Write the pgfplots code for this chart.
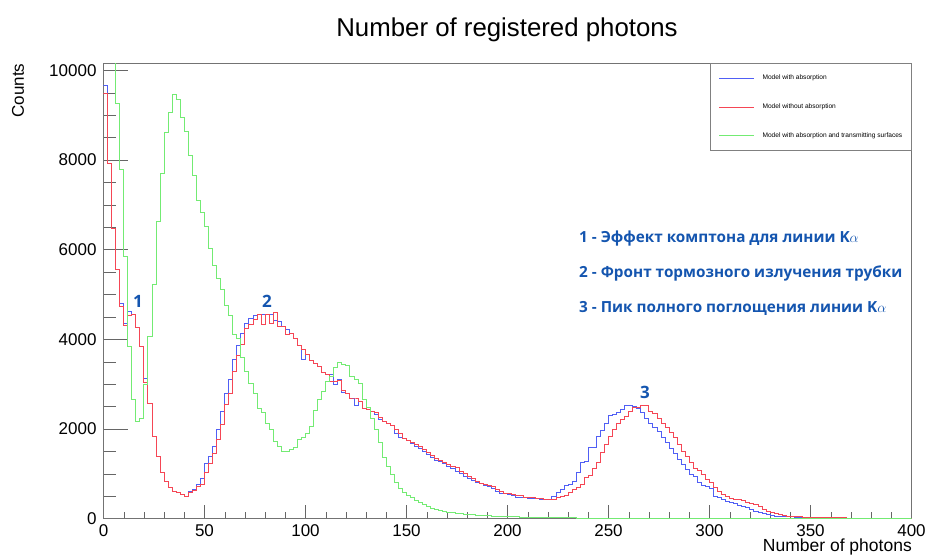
\documentclass[border=0pt]{standalone}
\usepackage{fontspec}
\setmainfont{Liberation Sans}
\newfontfamily\annfont{Open Sans}
\usepackage{pgfplots}
\usepackage{pgfplotstable}
\pgfplotsset{compat=1.18}

\definecolor{hblue}{RGB}{80,95,245}
\definecolor{hred}{RGB}{245,70,85}
\definecolor{hgreen}{RGB}{115,235,115}
\definecolor{anno}{RGB}{20,85,175}

% bin lower edge, with absorption, without absorption, with transmitting surfaces
\pgfplotstableread{
x b r g
0 9665 9480 12000
2 7930 7930 12000
4 6480 6480 12000
6 5545 5545 9257
8 4788 4729 7788
10 4358 4298 5841
12 4618 4521 3838
14 4558 4558 2650
16 4261 4261 2167
18 3838 3838 2242
20 3133 3029 2984
22 2576 2576 4060
24 1833 1833 5227
26 1388 1388 6621
28 1017 1017 7699
30 831 831 8603
32 683 683 9049
34 594 594 9457
36 572 572 9346
38 534 534 8946
40 497 497 8626
42 594 572 8091
44 646 620 7661
46 757 720 7104
48 884 757 6830
50 1225 1017 6510
52 1388 1225 6028
54 1610 1462 5634
56 1982 1759 5360
58 2390 2093 5100
60 2784 2539 4744
62 3111 2799 4528
64 3541 3281 4113
66 3859 3630 4024
68 4135 3875 3601
70 4358 4247 3281
72 4469 4320 3022
74 4528 4447 2799
76 4543 4543 2465
78 4543 4336 2376
80 4543 4543 2116
82 4543 4358 1997
84 4417 4603 1722
86 4395 4284 1610
88 4284 4284 1499
90 4224 4098 1499
92 4135 4135 1537
94 4024 4024 1574
96 3859 3859 1759
98 3541 3780 1819
100 3652 3652 1893
102 3519 3519 2056
104 3467 3467 2405
106 3392 3392 2650
108 3258 3258 2836
110 3207 3207 3058
112 3222 3058 3169
114 2984 3058 3378
116 3111 3080 3489
118 2813 2858 3430
120 2799 2799 3407
122 2688 2688 3169
124 2517 2688 3111
126 2613 2613 3022
128 2457 2457 2650
130 2443 2443 2487
132 2390 2390 2242
134 2316 2360 1982
136 2220 2250 1700
138 2167 2167 1351
140 2116 2116 1165
142 2071 2071 980
144 1908 1997 794
146 1819 1893 661
148 1775 1775 572
150 1744 1744 512
152 1670 1700 460
154 1610 1650 408
156 1552 1600 349
158 1499 1540 312
160 1425 1470 274
162 1351 1400 216
164 1298 1330 200
166 1276 1300 180
168 1218 1240 163
170 1165 1200 141
172 1107 1165 126
174 1053 1130 111
176 1002 1053 111
178 942 1010 100
180 884 942 89
182 853 884 89
184 808 830 78
186 786 786 67
188 742 765 67
190 712 742 60
192 680 712 52
194 608 653 52
196 557 600 45
198 557 570 45
200 534 557 40
202 512 534 37
204 475 512 35
206 460 512 33
208 460 475 30
210 440 475 30
212 450 460 28
214 445 445 25
216 430 440 25
218 423 423 22
220 423 423 20
222 483 423 18
224 572 460 18
226 646 497 16
228 735 512 15
230 757 572 14
232 831 646 13
234 1031 683 12
236 1254 757 12
238 1276 906 11
240 1574 958 10
242 1596 1107 10
244 1833 1240 9
246 1967 1477 8
248 2131 1648 9
250 2294 1833 7
252 2316 1982 8
254 2368 2131 5
256 2443 2220 7
258 2517 2278 4
260 2517 2390 6
262 2502 2487 3
264 2465 2487 6
266 2368 2517 3
268 2242 2517 5
270 2131 2390 2
272 2042 2353 5
274 1945 2242 2
276 1797 2131 4
278 1686 2020 1
280 1552 1922 4
282 1462 1797 1
284 1314 1648 3
286 1202 1499 1
288 1091 1388 3
290 980 1240 0
292 928 1107 3
294 808 1076 0
296 735 980 2
298 705 868 0
300 665 800 2
302 490 700 0
304 470 610 2
306 423 534 0
308 386 483 1
310 349 438 0
312 334 430 1
314 290 423 0
316 260 401 1
318 238 364 0
320 200 334 1
322 163 312 0
324 141 260 0
326 111 200 0
328 89 163 0
330 67 141 0
332 50 111 0
334 45 89 0
336 40 67 0
338 37 55 0
340 35 45 0
342 30 40 0
344 28 35 0
346 25 32 0
348 22 30 0
350 20 27 0
352 18 25 0
354 16 22 0
356 15 20 0
358 14 18 0
360 12 16 0
362 12 15 0
364 11 14 0
366 10 13 0
368 10 12 0
370 9 11 0
372 8 10 0
374 8 10 0
376 7 9 0
378 7 9 0
380 6 8 0
382 6 8 0
384 5 7 0
386 5 7 0
388 5 6 0
390 4 6 0
392 4 6 0
394 4 5 0
396 4 5 0
398 3 5 0
400 3 5 0
}\hist

\begin{document}
\begin{tikzpicture}
\begin{axis}[
    at={(0pt,0pt)}, anchor=south west,
    scale only axis, width=808pt, height=455pt,
    xmin=0, xmax=400, ymin=0, ymax=10150,
    axis line style={black!55},
    xtick={0,50,...,400}, ytick={0,2000,...,10000},
    minor x tick num=4, minor y tick num=3,
    tick align=inside, tick pos=left,
    xtick style={black!60, /pgfplots/major tick length=13.6pt, /pgfplots/minor tick length=6.8pt},
    ytick style={black!60, /pgfplots/major tick length=24pt, /pgfplots/minor tick length=12pt},
    ticklabel style={font=\fontsize{17}{20}\selectfont},
    /pgf/number format/assume math mode=true,
    /pgf/number format/1000 sep={},
    scaled ticks=false,
    xticklabel style={yshift=-3pt},
    yticklabel style={xshift=-3.5pt},
    title={Number of registered photons},
    title style={font=\fontsize{25.8}{30}\selectfont, at={(axis description cs:0.4994,1.061)}, anchor=center},
    xlabel={Number of photons},
    xlabel style={font=\fontsize{17.5}{20}\selectfont, at={(axis description cs:1.0006,-0.0736)}, anchor=base east, inner sep=0pt},
    ylabel={Counts},
    ylabel style={font=\fontsize{17}{20}\selectfont, at={(axis description cs:-0.1058,1.0)}, anchor=east, inner sep=0pt},
    legend cell align=left,
    legend image code/.code={\draw[#1] (0pt,0pt) -- (35pt,0pt);},
    legend style={at={(rel axis cs:1,1)}, anchor=north east, draw=black!50, fill=white,
        font=\fontsize{6.6}{7.8}\selectfont, nodes={inner sep=0pt},
        inner xsep=9pt, inner ysep=11.5pt, row sep=22.5pt, column sep=7.7pt},
]
\addplot[const plot mark left, color=hblue, line width=0.9pt] table[x=x, y=b] {\hist};
\addlegendentry{Model with absorption}
\addplot[const plot mark left, color=hred, line width=0.9pt] table[x=x, y=r] {\hist};
\addlegendentry{Model without absorption}
\addplot[const plot mark left, color=hgreen, line width=0.9pt] table[x=x, y=g] {\hist};
\addlegendentry{Model with absorption and transmitting surfaces}

\node[anno, font=\annfont\bfseries\fontsize{17}{20}\selectfont] at (axis cs:17.1,4852) {1};
\node[anno, font=\annfont\bfseries\fontsize{17}{20}\selectfont] at (axis cs:80.9,4852) {2};
\node[anno, font=\annfont\bfseries\fontsize{17}{20}\selectfont] at (axis cs:268,2822) {3};
\node[anno, anchor=west, inner sep=0pt, font=\annfont\bfseries\fontsize{15.3}{18}\selectfont] at (axis cs:235.4,6250) {1 - Эффект комптона для линии K\ensuremath{\alpha}};
\node[anno, anchor=west, inner sep=0pt, font=\annfont\bfseries\fontsize{15.3}{18}\selectfont] at (axis cs:235.4,5460) {2 - Фронт тормозного излучения трубки};
\node[anno, anchor=west, inner sep=0pt, font=\annfont\bfseries\fontsize{15.3}{18}\selectfont] at (axis cs:235.4,4680) {3 - Пик полного поглощения линии K\ensuremath{\alpha}};
\end{axis}
\pgfresetboundingbox
\path[use as bounding box] (-103.5pt,-38.5pt) rectangle (824.5pt,518.5pt);
\end{tikzpicture}
\end{document}
